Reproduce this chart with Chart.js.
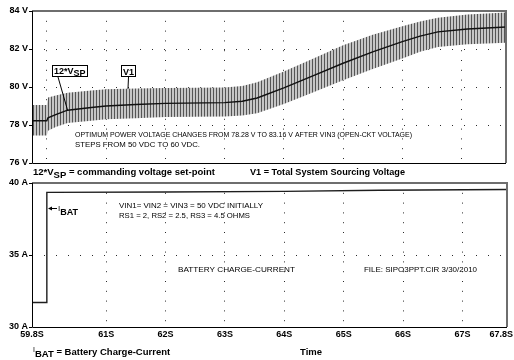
<!DOCTYPE html>
<html>
<head>
<meta charset="utf-8">
<script src="https://cdn.jsdelivr.net/npm/chart.js@4.4.1/dist/chart.umd.min.js"></script>
<style>
  html, body { margin: 0; padding: 0; background: #fff; }
  #wrap { position: relative; width: 514px; height: 360px; }
  #wrap canvas { position: absolute; left: 0; top: 0; }
</style>
</head>
<body>
<div id="wrap">
  <canvas id="voltChart" width="514" height="360"></canvas>
  <canvas id="currentChart" width="514" height="360"></canvas>
</div>
<script>
// time axis (seconds)
const timeMin = 59.75;
const timeMax = 67.75;
const timeTicks = [59.75, 61, 62, 63, 64, 65, 66, 67, 67.75];
const timeLabels = ['59.8S', '61S', '62S', '63S', '64S', '65S', '66S', '67S', '67.8S'];
const voltGridTimes = [60, 61, 62, 63, 64, 65, 66, 67];

// upper panel: V1 ripple envelope and 12*Vsp
const voltTicks = [76, 78, 80, 82, 84];
const timeV = [59.75, 60.00, 60.02, 60.15, 60.35, 60.75, 61.0, 61.5, 62.0, 63.0, 63.3, 63.55, 64.0, 64.5, 65.0, 65.5, 66.0, 66.3, 66.6, 67.1, 67.75];
const vsp12 = [78.22, 78.22, 78.38, 78.55, 78.78, 78.92, 79.0, 79.08, 79.14, 79.18, 79.25, 79.42, 79.95, 80.6, 81.25, 81.85, 82.39, 82.68, 82.9, 83.05, 83.16];
const v1High = [79.05, 79.05, 79.45, 79.55, 79.7, 79.82, 79.88, 79.92, 79.95, 79.97, 80.05, 80.25, 80.82, 81.5, 82.2, 82.75, 83.2, 83.45, 83.65, 83.82, 83.92];
const v1Low = [77.45, 77.45, 77.7, 77.9, 78.1, 78.22, 78.3, 78.36, 78.42, 78.45, 78.5, 78.62, 79.1, 79.72, 80.35, 80.95, 81.5, 81.85, 82.1, 82.25, 82.33];

// lower panel: battery charge current
const ampTicks = [30, 35, 40];
const timeI = [59.75, 60.0, 60.0, 62.0, 64.0, 65.6, 67.75];
const ibat = [31.7, 31.7, 39.35, 39.38, 39.42, 39.5, 39.55];

const SANS = '"Liberation Sans", Arial, sans-serif';
const BOLD9 = 'bold 9px ' + SANS;
const BOLD95 = 'bold 9.5px ' + SANS;
const NOTE = '7px ' + SANS;

function points(xs, ys) {
  return xs.map((x, i) => ({ x: x, y: ys[i] }));
}

function ripplePattern(canvas) {
  const c = document.createElement('canvas');
  c.width = 3; c.height = 1;
  const g = c.getContext('2d');
  g.fillStyle = '#c6c6c6'; g.fillRect(0, 0, 3, 1);
  g.fillStyle = '#555'; g.fillRect(0, 0, 1, 1);
  return canvas.getContext('2d').createPattern(c, 'repeat');
}

function fitText(ctx, text, x, y, width) {
  const w = ctx.measureText(text).width;
  ctx.save();
  ctx.translate(x, y);
  ctx.scale(width / w, 1);
  ctx.fillText(text, 0, 0);
  ctx.restore();
}

function drawParts(ctx, x, y, parts) {
  for (const p of parts) {
    ctx.font = p.font;
    ctx.fillText(p.text, x, y + (p.dy || 0));
    x += ctx.measureText(p.text).width;
  }
}

const framePlugin = {
  id: 'frame',
  afterDraw(chart) {
    const { ctx, chartArea: a } = chart;
    ctx.save();
    ctx.strokeStyle = '#6e6e6e';
    ctx.lineWidth = 2;
    ctx.beginPath();
    ctx.moveTo(a.left, a.top);
    ctx.lineTo(a.right, a.top);
    ctx.lineTo(a.right, a.bottom);
    ctx.stroke();
    ctx.strokeStyle = '#000';
    ctx.lineWidth = 1;
    ctx.beginPath();
    ctx.moveTo(a.left + 0.5, a.top);
    ctx.lineTo(a.left + 0.5, a.bottom + 0.5);
    ctx.lineTo(a.right, a.bottom + 0.5);
    ctx.stroke();
    ctx.restore();
  }
};

const voltNotes = {
  id: 'voltNotes',
  afterDraw(chart) {
    const { ctx } = chart;
    const x = chart.scales.x, y = chart.scales.y;
    ctx.save();
    ctx.fillStyle = '#000';
    ctx.strokeStyle = '#000';
    ctx.lineWidth = 1;
    // leader lines
    ctx.beginPath();
    ctx.moveTo(58, 77);
    ctx.lineTo(x.getPixelForValue(60.35), y.getPixelForValue(78.78));
    ctx.moveTo(128.5, 77);
    ctx.lineTo(x.getPixelForValue(61.37), y.getPixelForValue(79.9));
    ctx.stroke();
    // label boxes
    ctx.fillStyle = '#fff';
    ctx.fillRect(52, 65, 36, 12);
    ctx.fillRect(121, 65, 15, 12);
    ctx.strokeRect(52.5, 65.5, 35, 11);
    ctx.strokeRect(121.5, 65.5, 14, 11);
    ctx.fillStyle = '#000';
    drawParts(ctx, 54, 74, [
      { text: '12*V', font: BOLD9 },
      { text: 'SP', font: BOLD9, dy: 2 }
    ]);
    ctx.font = BOLD9;
    ctx.fillText('V1', 123, 75);
    // notes
    ctx.font = NOTE;
    fitText(ctx, 'OPTIMUM POWER VOLTAGE CHANGES FROM 78.28 V TO 83.16 V AFTER VIN3 (OPEN-CKT VOLTAGE)', 75, 137, 337);
    fitText(ctx, 'STEPS FROM 50 VDC TO 60 VDC.', 75, 147, 125);
    ctx.restore();
  }
};

const currentNotes = {
  id: 'currentNotes',
  afterDraw(chart) {
    const { ctx } = chart;
    const x = chart.scales.x;
    ctx.save();
    ctx.fillStyle = '#000';
    ctx.strokeStyle = '#000';
    // time tick labels
    ctx.font = BOLD9;
    ctx.textAlign = 'center';
    timeTicks.forEach((t, i) => {
      const w = ctx.measureText(timeLabels[i]).width;
      let px = x.getPixelForValue(t);
      px = Math.min(Math.max(px, w / 2 + 1), 513 - w / 2);
      ctx.fillText(timeLabels[i], px, 337);
    });
    ctx.textAlign = 'left';
    // captions between panels
    drawParts(ctx, 33, 175, [
      { text: '12*V', font: BOLD95 },
      { text: 'SP', font: BOLD95, dy: 3 },
      { text: ' = commanding voltage set-point', font: BOLD95 }
    ]);
    ctx.font = BOLD95;
    fitText(ctx, 'V1 = Total System Sourcing Voltage', 250, 175, 155);
    // I_BAT arrow label
    ctx.lineWidth = 1;
    ctx.beginPath();
    ctx.moveTo(57, 208.5);
    ctx.lineTo(50, 208.5);
    ctx.stroke();
    ctx.beginPath();
    ctx.moveTo(48, 208.5);
    ctx.lineTo(52, 206.5);
    ctx.lineTo(52, 210.5);
    ctx.closePath();
    ctx.fill();
    drawParts(ctx, 58, 211, [
      { text: 'I', font: '8px ' + SANS },
      { text: 'BAT', font: BOLD9, dy: 4 }
    ]);
    // notes
    ctx.font = NOTE;
    fitText(ctx, 'VIN1= VIN2 = VIN3 = 50 VDC INITIALLY', 119, 208, 144);
    fitText(ctx, 'RS1 = 2, RS2 = 2.5, RS3 = 4.5 OHMS', 119, 218, 131);
    fitText(ctx, 'BATTERY CHARGE-CURRENT', 178, 272, 117);
    fitText(ctx, 'FILE: SIPO3PPT.CIR 3/30/2010', 364, 272, 113);
    // bottom captions
    drawParts(ctx, 33, 352, [
      { text: 'I', font: '7px ' + SANS },
      { text: 'BAT', font: BOLD95, dy: 5 },
      { text: ' = Battery Charge-Current', font: BOLD95, dy: 3 }
    ]);
    ctx.font = BOLD95;
    ctx.fillText('Time', 300, 355);
    ctx.restore();
  }
};

function edgeHidden(values) {
  return c => {
    const v = c.tick ? c.tick.value : null;
    return (v === values[0] || v === values[values.length - 1]) ? 'rgba(0,0,0,0)' : '#2a2a2a';
  };
}

function timeScale(gridTimes, dash) {
  return {
    type: 'linear',
    min: timeMin,
    max: timeMax,
    afterBuildTicks: s => { s.ticks = gridTimes.map(v => ({ value: v })); },
    afterFit: s => { s.height = 0; s.paddingLeft = 0; s.paddingRight = 0; },
    ticks: { display: false },
    grid: { color: edgeHidden(gridTimes.length > 8 ? gridTimes : [null]), drawTicks: false },
    border: { display: false, dash: dash }
  };
}

function valueScale(min, max, values, unit) {
  return {
    min: min,
    max: max,
    afterBuildTicks: s => { s.ticks = values.map(v => ({ value: v })); },
    afterFit: s => { s.width = 32; },
    ticks: {
      callback: v => v + ' ' + unit,
      font: { family: SANS, size: 9, weight: 'bold' },
      color: '#000',
      padding: 1
    },
    grid: { color: edgeHidden(values), tickColor: '#000', tickLength: 3 },
    border: { display: false, dash: [1, 11] }
  };
}

const voltCanvas = document.getElementById('voltChart');
new Chart(voltCanvas, {
  type: 'line',
  data: {
    datasets: [
      { data: points(timeV, v1High), borderWidth: 0, pointRadius: 0, fill: false, order: 2 },
      { data: points(timeV, v1Low), borderWidth: 0, pointRadius: 0, fill: '-1', backgroundColor: ripplePattern(voltCanvas), order: 1 },
      { data: points(timeV, vsp12), borderColor: '#111', borderWidth: 1.4, pointRadius: 0, fill: false, order: 0 }
    ]
  },
  options: {
    responsive: false,
    animation: false,
    devicePixelRatio: 1,
    layout: { padding: { top: 11, right: 8, bottom: 197, left: 0 } },
    plugins: { legend: { display: false }, tooltip: { enabled: false } },
    scales: {
      x: timeScale(voltGridTimes, [1, 8.8]),
      y: valueScale(76, 84, voltTicks, 'V')
    }
  },
  plugins: [framePlugin, voltNotes]
});

const currentX = timeScale(timeTicks, [1, 8.8]);
currentX.afterFit = s => { s.height = 14; s.paddingLeft = 0; s.paddingRight = 0; };

new Chart(document.getElementById('currentChart'), {
  type: 'line',
  data: {
    datasets: [
      { data: points(timeI, ibat), borderColor: '#1e1e1e', borderWidth: 1.4, pointRadius: 0, fill: false }
    ]
  },
  options: {
    responsive: false,
    animation: false,
    devicePixelRatio: 1,
    layout: { padding: { top: 183, right: 7, bottom: 19, left: 0 } },
    plugins: { legend: { display: false }, tooltip: { enabled: false } },
    scales: {
      x: currentX,
      y: valueScale(30, 40, ampTicks, 'A')
    }
  },
  plugins: [framePlugin, currentNotes]
});
</script>
</body>
</html>
